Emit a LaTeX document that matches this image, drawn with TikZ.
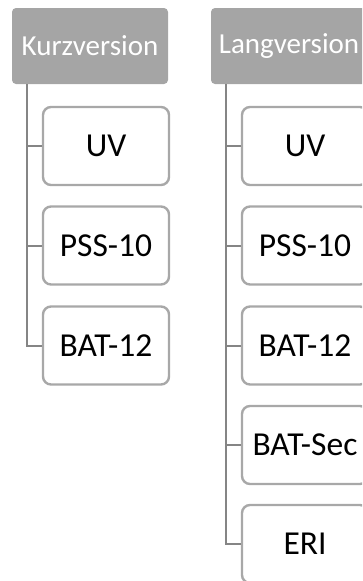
\documentclass[tikz,border=0pt]{standalone}
\usepackage{fontspec}
\setmainfont{Carlito}
\usetikzlibrary{calc}
\definecolor{headfill}{HTML}{A5A5A5}
\definecolor{boxline}{HTML}{A8A8A8}
\definecolor{spine}{HTML}{858585}
\tikzset{
  header/.style={fill=headfill, draw=none, rounded corners=4pt,
    minimum width=156pt, minimum height=76pt, inner sep=0pt,
    text=white, font=\fontsize{29}{33}\selectfont},
  item/.style={fill=white, draw=boxline, line width=2.4pt, rounded corners=8pt,
    minimum width=126pt, minimum height=78pt, inner sep=0pt,
    text=black, font=\fontsize{33.5}{38}\selectfont},
  link/.style={draw=spine, line width=2pt}
}
\begin{document}
\begin{tikzpicture}[x=1pt, y=-1pt]
  \useasboundingbox (0,0) rectangle (362,581);
  \clip (0,0) rectangle (362,581);

  % short version
  \node[header] (kh) at (90,46) {Kurzversion};
  \node[item] (k1) at (106,146) {UV};
  \node[item] (k2) at (106,245.5) {PSS-10};
  \node[item] (k3) at (106,345.5) {BAT-12};

  % long version
  \node[header] (lh) at (289,46) {Langversion};
  \node[item] (l1) at (305,146) {UV};
  \node[item] (l2) at (305,245.5) {PSS-10};
  \node[item] (l3) at (305,345.5) {BAT-12};
  \node[item] (l4) at (305,445) {BAT-Sec};
  \node[item] (l5) at (305,544) {ERI};

  % tree connectors
  \coordinate (ks) at ($(kh.south west)+(14.8,0)$);
  \coordinate (ls) at ($(lh.south west)+(15,0)$);
  \foreach \n in {k1,k2,k3} \draw[link] (ks) |- (\n.west);
  \foreach \n in {l1,l2,l3,l4,l5} \draw[link] (ls) |- (\n.west);
\end{tikzpicture}
\end{document}
